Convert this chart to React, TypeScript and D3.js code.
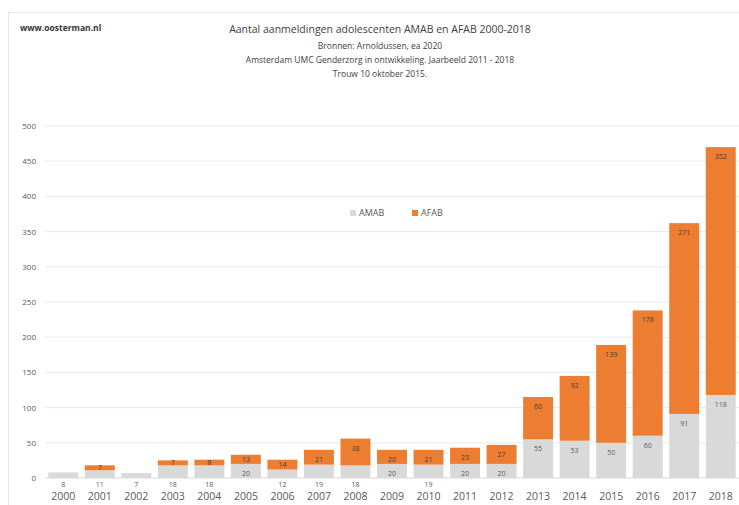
import React from "react";
import * as d3 from "d3";

const years = ["2000","2001","2002","2003","2004","2005","2006","2007","2008","2009","2010","2011","2012","2013","2014","2015","2016","2017","2018"];
const amab = [8, 11, 7, 18, 18, 20, 12, 19, 18, 20, 19, 20, 20, 55, 53, 50, 60, 91, 118];
const afab = [0, 7, 0, 7, 8, 13, 14, 21, 38, 20, 21, 23, 27, 60, 92, 139, 178, 271, 352];
const yTicks = [0, 50, 100, 150, 200, 250, 300, 350, 400, 450, 500];
const titleLines = [
  "Bronnen:  Arnoldussen, ea 2020",
  "Amsterdam UMC  Genderzorg in ontwikkeling. Jaarbeeld 2011 - 2018",
  "Trouw 10 oktober 2015.",
];

const W = 739, H = 505;
const GRAY = "#d9d9d9";
const ORANGE = "#ed7d31";
const TXT = "#595959";
const FONT = "'Open Sans', 'Liberation Sans', sans-serif";

export default function App() {
  const x = d3.scaleBand<string>().domain(years).range([45, 739]).paddingInner(0.18).paddingOuter(0.09);
  const y = d3.scaleLinear().domain([0, 500]).range([478, 126]);
  const bw = x.bandwidth();
  return (
    <div style={{ position: "absolute", left: 0, top: 0 }}>
      <svg width={W} height={H} style={{ display: "block", background: "#fff", fontFamily: FONT }}>
        <rect x={8.5} y={12.5} width={740} height={500} fill="none" stroke="#e6e6e6" />
        <text x={20} y={31} fontSize={8.5} fontWeight="bold" fill="#333">www.oosterman.nl</text>
        <text x={380} y={33} fontSize={10.5} textAnchor="middle" fill="#404040">
          Aantal aanmeldingen adolescenten AMAB en AFAB 2000-2018
        </text>
        {titleLines.map((t, i) => (
          <text key={i} x={380} y={49 + i * 14} fontSize={8.5} textAnchor="middle" fill="#404040">{t}</text>
        ))}
        {yTicks.map((t) => (
          <g key={t}>
            {t > 0 && <line x1={45} x2={739} y1={y(t)} y2={y(t)} stroke="#e8e8e8" strokeWidth={1} />}
            <text x={36} y={y(t) + 3} fontSize={8} textAnchor="end" fill={TXT}>{t}</text>
          </g>
        ))}
        <line x1={45} x2={739} y1={y(0)} y2={y(0)} stroke="#d9d9d9" />
        {years.map((yr, i) => {
          const x0 = x(yr) as number;
          const a = amab[i], f = afab[i];
          const gh = y(0) - y(a);
          const oh = y(a) - y(a + f);
          const gy = gh < 14 ? 487 : y(a) + 12;
          const oy = oh < 14 ? y(a + f) + oh / 2 + 2.5 : y(a + f) + 12;
          return (
            <g key={yr}>
              <rect x={x0} y={y(a)} width={bw} height={gh} fill={GRAY} />
              {f > 0 && <rect x={x0} y={y(a + f)} width={bw} height={oh} fill={ORANGE} />}
              <text x={x0 + bw / 2} y={gy} fontSize={7} textAnchor="middle" fill={TXT}>{a}</text>
              {f > 0 && (
                <text x={x0 + bw / 2} y={oy} fontSize={7} textAnchor="middle" fill="#404040">{f}</text>
              )}
              <text x={x0 + bw / 2} y={500} fontSize={10.5} textAnchor="middle" fill={TXT}>{yr}</text>
            </g>
          );
        })}
        <g>
          <rect x={350} y={210} width={6} height={6} fill={GRAY} />
          <text x={359} y={216} fontSize={9} fill={TXT}>AMAB</text>
          <rect x={412} y={210} width={6} height={6} fill={ORANGE} />
          <text x={421} y={216} fontSize={9} fill={TXT}>AFAB</text>
        </g>
      </svg>
    </div>
  );
}
